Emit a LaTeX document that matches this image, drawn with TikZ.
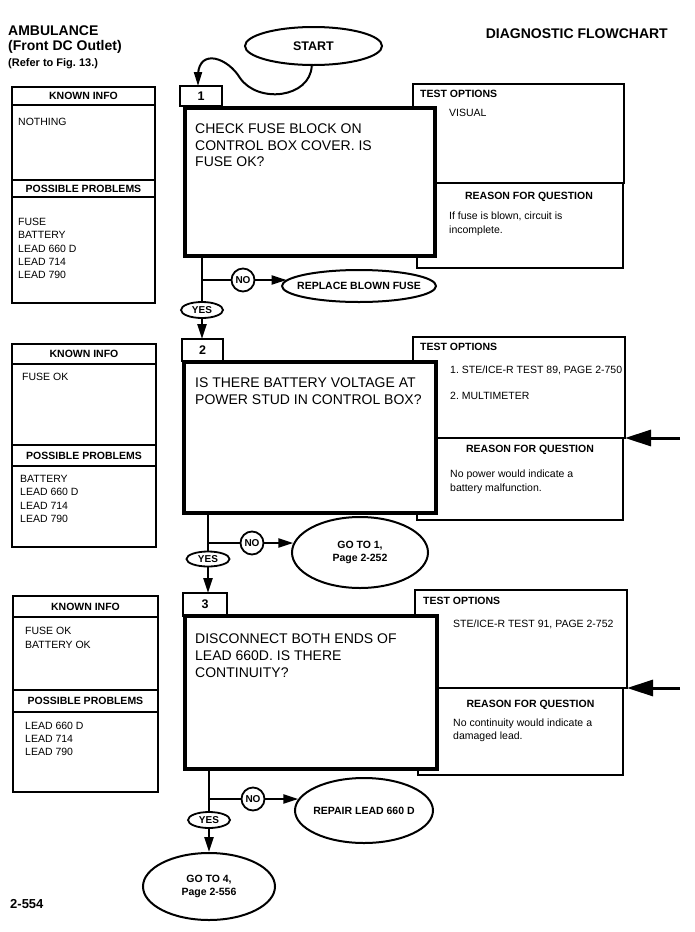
\documentclass[tikz,border=0pt]{standalone}
\usepackage{fontspec}
\setmainfont{Liberation Sans}
\usetikzlibrary{shapes.geometric,arrows.meta}
\frenchspacing
\newcommand{\fsz}[2]{\fontsize{#1}{#2}\selectfont}
\newcommand{\twoline}[2]{\makebox[0pt]{\begin{tabular}{@{}c@{}}#1\\#2\end{tabular}}}
\begin{document}
\begin{tikzpicture}[x=1pt,y=-1pt,
  pbox/.style={draw, line width=1.4pt, inner sep=0pt, outer sep=0pt, anchor=north west},
  hdr/.style={pbox, font=\bfseries\fsz{10.5}{12}},
  tabbox/.style={draw, line width=1.5pt, inner sep=0pt, outer sep=0pt, anchor=north west, font=\bfseries\fsz{12.5}{14}},
  mainbox/.style={draw, line width=4.5pt, fill=white, inner sep=0pt, outer sep=0pt, anchor=north west},
  qtext/.style={anchor=north west, align=left, inner sep=0pt, font=\fsz{14}{16.8}},
  itemtxt/.style={anchor=north west, align=left, inner sep=0pt, font=\fsz{10.5}{13.3}},
  labtxt/.style={anchor=north west, inner sep=0pt, font=\bfseries\fsz{10.5}{12}},
  opttxt/.style={anchor=north west, align=left, inner sep=0pt, font=\fsz{10.5}{13}},
  rsntxt/.style={anchor=north west, align=left, inner sep=0pt, font=\fsz{10.5}{13.5}},
  termnode/.style={draw, ellipse, line width=2pt, inner sep=0pt, fill=white, font=\bfseries\fsz{10.5}{12.5}},
  yesnode/.style={draw, ellipse, line width=1.8pt, inner sep=0pt, fill=white, minimum width=42pt, minimum height=16pt, font=\bfseries\fsz{10}{12}},
  nonode/.style={draw, circle, line width=1.8pt, inner sep=0pt, fill=white, minimum size=23pt, font=\bfseries\fsz{10}{12}},
  conn/.style={line width=2.2pt},
  arr/.style={line width=2.2pt, -{Triangle[length=15pt,width=9pt]}},
  bigarr/.style={line width=3pt, -{Triangle[length=26pt,width=16pt]}},
]
\useasboundingbox (0,0) rectangle (694,932);

% ---------- header ----------
\node[anchor=base west, inner sep=0pt, font=\bfseries\fsz{14}{16}] (h1) at (8,35.3) {AMBULANCE};
\node[anchor=base west, inner sep=0pt, font=\bfseries\fsz{14}{16}] (h2) at (8,50.7) {(Front DC Outlet)};
\node[anchor=base west, inner sep=0pt, font=\bfseries\fsz{11}{13}] (h3) at (8,66.7) {(Refer to Fig. 13.)};
\node[anchor=base east, inner sep=0pt, font=\bfseries\fsz{14}{16}] (h4) at (668,38) {DIAGNOSTIC FLOWCHART};
\node[termnode, minimum width=137pt, minimum height=38pt, font=\bfseries\fsz{12.5}{14}] (start) at (313.5,46) {START};

% ---------- section 1 ----------
\node[hdr, minimum width=143pt, minimum height=18pt] (k1h) at (12,87) {KNOWN INFO};
\node[pbox, minimum width=143pt, minimum height=75pt] (k1c) at (12,105) {};
\node[hdr, minimum width=143pt, minimum height=17pt] (k1p) at (12,180) {POSSIBLE PROBLEMS};
\node[pbox, minimum width=143pt, minimum height=106pt] (k1q) at (12,197) {};
\node[itemtxt] (k1n) at (18,118) {NOTHING};
\node[itemtxt] (k1i) at (18,218) {FUSE\\BATTERY\\LEAD 660 D\\LEAD 714\\LEAD 790};

\node[pbox, minimum width=211pt, minimum height=99pt] (to1) at (413,84) {};
\node[pbox, minimum width=206pt, minimum height=85pt] (rq1) at (417,183) {};
\node[tabbox, minimum width=42pt, minimum height=20pt] (tab1) at (180,86) {1};
\node[mainbox, minimum width=250pt, minimum height=148pt] (main1) at (185,108) {};
\node[qtext] (q1) at (195,123.3) {CHECK FUSE BLOCK ON\\CONTROL BOX COVER. IS\\FUSE OK?};
\node[labtxt] (to1l) at (420,90) {TEST OPTIONS};
\node[opttxt] (to1t) at (449,109.3) {VISUAL};
\node[labtxt, anchor=north] (rq1l) at (529,191.7) {REASON FOR QUESTION};
\node[rsntxt] (rq1t) at (449,211.7) {If fuse is blown, circuit is\\incomplete.};

\draw[line width=2pt, -{Triangle[length=14pt,width=8pt]}] (start.265) .. controls (310,98) and (258,104) .. (240,78) .. controls (228,58) and (200,48) .. (198,74) -- ([xshift=-3pt]tab1.north);

\node[yesnode] (yes1) at (202,310) {YES};
\node[nonode] (no1) at (243,280) {NO};
\node[termnode, minimum width=154pt, minimum height=32pt] (rep1) at (359,286) {\makebox[0pt]{REPLACE BLOWN FUSE}};

% ---------- section 2 ----------
\node[hdr, minimum width=144pt, minimum height=20pt] (k2h) at (12,344) {KNOWN INFO};
\node[pbox, minimum width=144pt, minimum height=81pt] (k2c) at (12,364) {};
\node[hdr, minimum width=144pt, minimum height=21pt] (k2p) at (12,445) {POSSIBLE PROBLEMS};
\node[pbox, minimum width=144pt, minimum height=81pt] (k2q) at (12,466) {};
\node[itemtxt] (k2n) at (22,373) {FUSE OK};
\node[itemtxt] (k2i) at (20,475) {BATTERY\\LEAD 660 D\\LEAD 714\\LEAD 790};

\node[pbox, minimum width=212pt, minimum height=101pt] (to2) at (413,337) {};
\node[pbox, minimum width=206pt, minimum height=82pt] (rq2) at (417,438) {};
\node[tabbox, minimum width=41pt, minimum height=22pt] (tab2) at (182,339) {2};
\node[mainbox, minimum width=252pt, minimum height=151pt] (main2) at (184,362) {};
\node[qtext] (q2) at (195,378) {IS THERE BATTERY VOLTAGE AT\\POWER STUD IN CONTROL BOX?};
\node[labtxt] (to2l) at (420,343) {TEST OPTIONS};
\node[opttxt] (to2t) at (450,366) {1. STE/ICE-R TEST 89, PAGE 2-750};
\node[opttxt] (to2u) at (450,391.7) {2. MULTIMETER};
\node[labtxt, anchor=north] (rq2l) at (530,445) {REASON FOR QUESTION};
\node[rsntxt] (rq2t) at (450,470) {No power would indicate a\\battery malfunction.};
\coordinate (a2) at (680,438);

\node[yesnode, minimum width=43pt, minimum height=15pt] (yes2) at (208,559) {YES};
\node[nonode] (no2) at (252,543) {NO};
\node[termnode, minimum width=136pt, minimum height=71pt] (go1) at (360,552.5) {\twoline{GO TO 1,}{Page 2-252}};

% ---------- section 3 ----------
\node[hdr, minimum width=145pt, minimum height=21pt] (k3h) at (13,596) {KNOWN INFO};
\node[pbox, minimum width=145pt, minimum height=73pt] (k3c) at (13,617) {};
\node[hdr, minimum width=145pt, minimum height=22pt] (k3p) at (13,690) {POSSIBLE PROBLEMS};
\node[pbox, minimum width=145pt, minimum height=80pt] (k3q) at (13,712) {};
\node[itemtxt] (k3n) at (25,627.3) {FUSE OK\\BATTERY OK};
\node[itemtxt] (k3i) at (25,721.7) {LEAD 660 D\\LEAD 714\\LEAD 790};

\node[pbox, minimum width=212pt, minimum height=98pt] (to3) at (415,590) {};
\node[pbox, minimum width=205pt, minimum height=87pt] (rq3) at (418,688) {};
\node[tabbox, minimum width=44pt, minimum height=23pt] (tab3) at (183,593) {3};
\node[mainbox, minimum width=252pt, minimum height=153pt] (main3) at (185,616) {};
\node[qtext] (q3) at (195,634) {DISCONNECT BOTH ENDS OF\\LEAD 660D. IS THERE\\CONTINUITY?};
\node[labtxt] (to3l) at (423,597) {TEST OPTIONS};
\node[opttxt] (to3t) at (453,620) {STE/ICE-R TEST 91, PAGE 2-752};
\node[labtxt, anchor=north] (rq3l) at (530.5,700) {REASON FOR QUESTION};
\node[rsntxt] (rq3t) at (453,718.3) {No continuity would indicate a\\damaged lead.};
\coordinate (a3) at (680,688);

\node[yesnode] (yes3) at (209,820) {YES};
\node[nonode] (no3) at (253,799) {NO};
\node[termnode, minimum width=138pt, minimum height=65pt] (rep3) at (364,810.5) {\makebox[0pt]{REPAIR LEAD 660 D}};
\node[termnode, minimum width=132pt, minimum height=67pt] (go4) at (209,886.5) {\twoline{GO TO 4,}{Page 2-556}};

\node[anchor=base west, inner sep=0pt, font=\bfseries\fsz{13}{15}] (pg) at (10,908.3) {2-554};

% ---------- connectors ----------
\draw[conn] (yes1.north |- main1.south) -- (yes1.north);
\draw[conn] (yes1.north |- no1.west) -- (no1.west);
\draw[arr] (no1.east) -- (no1.east -| rep1.175);
\draw[arr] (yes1.south) -- (yes1.south |- tab2.north);

\draw[conn] (yes2.north |- main2.south) -- (yes2.north);
\draw[conn] (yes2.north |- no2.west) -- (no2.west);
\draw[arr] (no2.east) -- (no2.east -| go1.172);
\draw[arr] (yes2.south) -- (yes2.south |- tab3.north);
\draw[bigarr] (a2) -- (to2.south east);

\draw[conn] (yes3.north |- main3.south) -- (yes3.north);
\draw[conn] (yes3.north |- no3.west) -- (no3.west);
\draw[arr] (no3.east) -- (no3.east -| rep3.170);
\draw[arr] (yes3.south) -- (go4.north);
\draw[bigarr] (a3) -- (to3.south east);
\end{tikzpicture}
\end{document}
